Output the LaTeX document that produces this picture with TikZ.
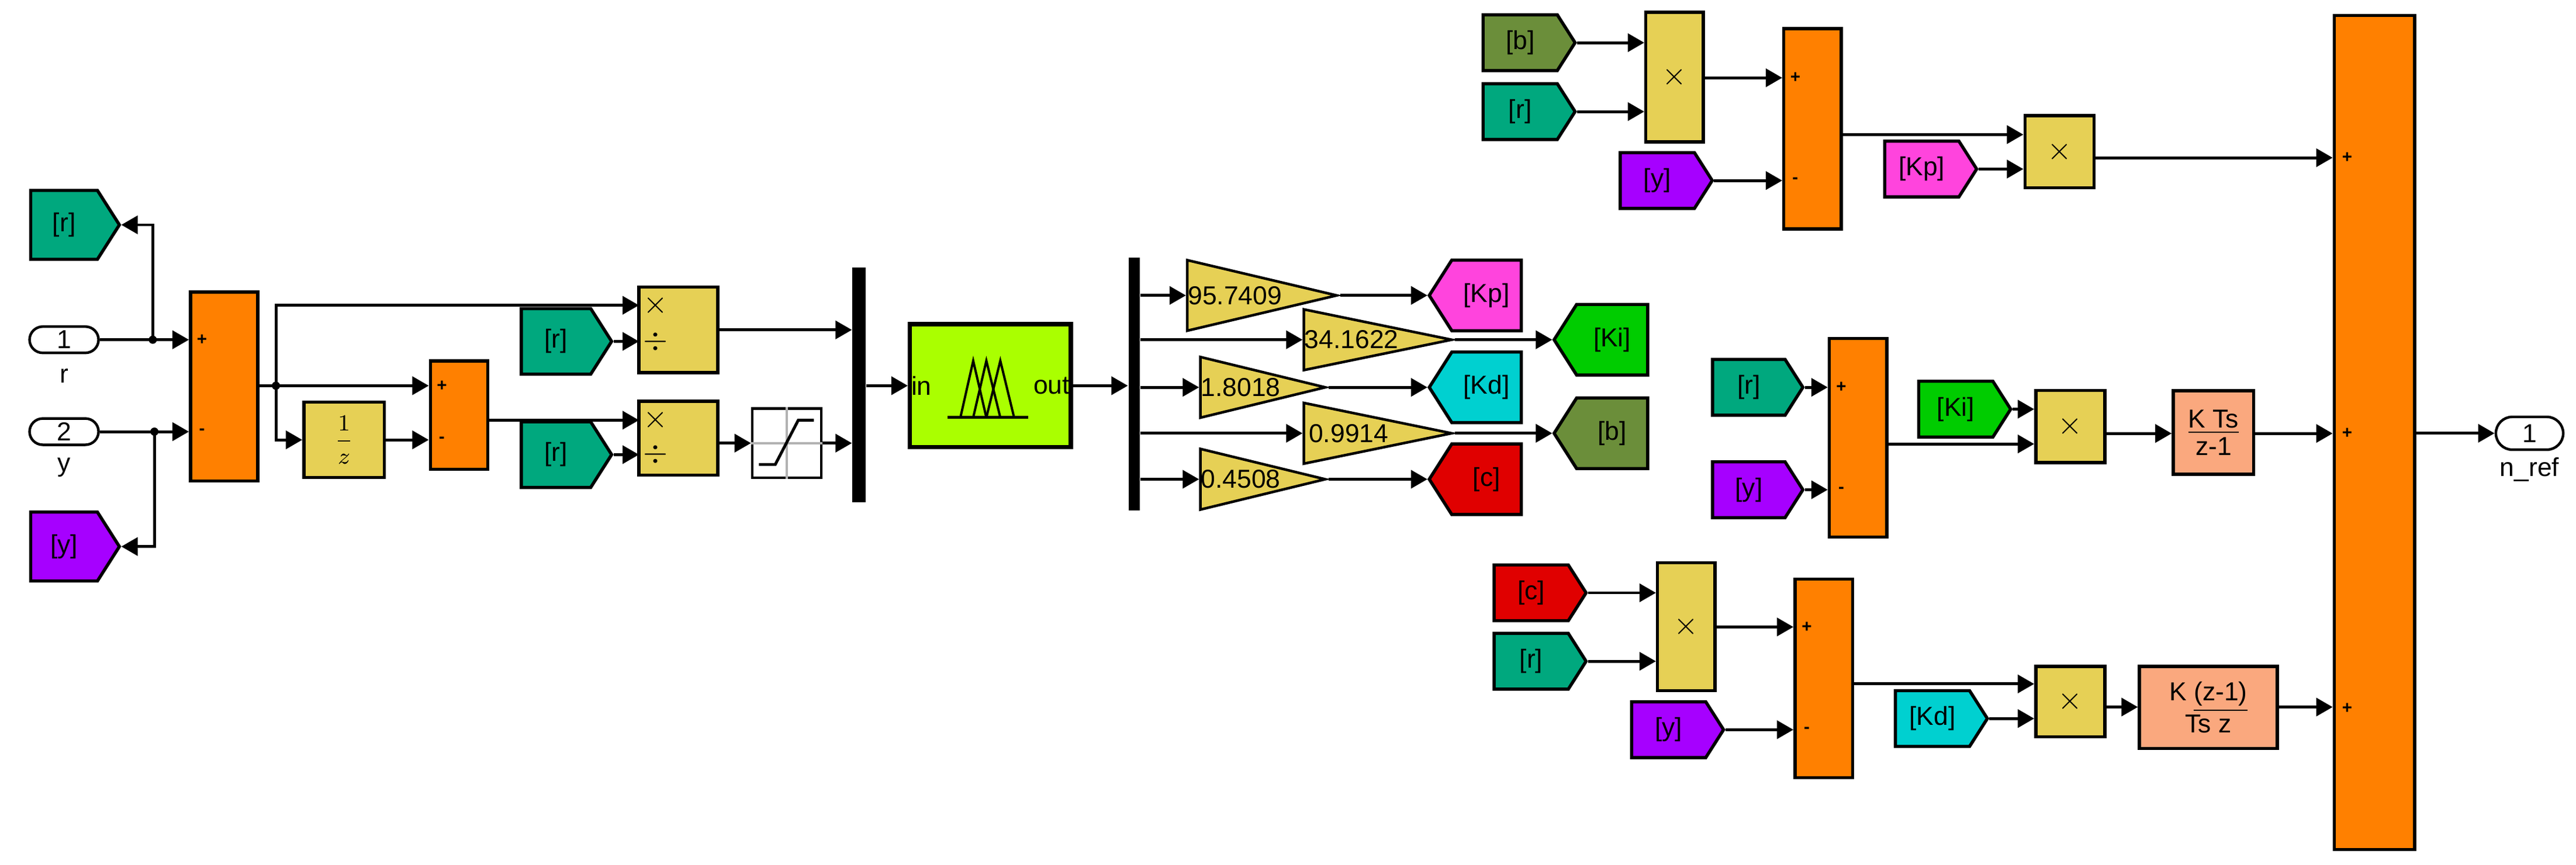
\documentclass[tikz,border=0pt]{standalone}
\usepackage{fontspec}
\setmainfont{Liberation Sans}
\usepackage{tikz}
\usetikzlibrary{shapes.geometric, shapes.symbols, shapes.misc, arrows.meta, positioning, calc}

\definecolor{sumorange}{HTML}{FF8000}
\definecolor{prodyellow}{HTML}{E6D055}
\definecolor{tagr}{HTML}{00A87E}
\definecolor{tagy}{HTML}{A600FF}
\definecolor{tagkp}{HTML}{FF44DD}
\definecolor{tagki}{HTML}{00CC00}
\definecolor{tagkd}{HTML}{00D0D0}
\definecolor{tagb}{HTML}{6B8E3A}
\definecolor{tagc}{HTML}{E00000}
\definecolor{fuzzygreen}{HTML}{AAFF00}
\definecolor{tfpeach}{HTML}{FAA87E}

\begin{document}
\begin{tikzpicture}[
        x=0.02cm, y=-0.02cm,
        font=\fontsize{9}{10}\selectfont,
        sz/.style 2 args={minimum width=#1*0.02cm, minimum height=#2*0.02cm},
        block/.style={rectangle, draw, line width=1.1pt, inner sep=0pt},
        sum/.style={block, fill=sumorange},
        prod/.style={block, fill=prodyellow, font=\fontsize{11}{11}\selectfont},
        tf/.style={block, fill=tfpeach, align=center, font=\fontsize{9}{9.5}\selectfont},
        tagE/.style={signal, signal to=east, signal pointer angle=115, draw, line width=1.1pt, inner sep=0pt},
        tagW/.style={signal, signal to=west, signal pointer angle=115, draw, line width=1.1pt, inner sep=0pt},
        gain/.style={isosceles triangle, isosceles triangle stretches, shape border rotate=0, draw, line width=0.9pt, fill=prodyellow, inner sep=0pt, anchor=west},
        port/.style={rounded rectangle, draw, line width=0.9pt, inner sep=0pt},
        muxbar/.style={rectangle, fill=black, inner sep=0pt},
        sign/.style={font=\fontsize{6}{6}\selectfont\bfseries, inner sep=0pt},
        arrow/.style={-{Triangle[length=2mm,width=2.2mm]}, line width=1pt},
        wire/.style={line width=1pt}
    ]
        \useasboundingbox (0,0) rectangle (1568.3,527);

        % Inputs and error
        \node[port, sz={42}{16}] (in1) at (39,207) {1};
        \node[port, sz={42}{16}] (in2) at (39,263) {2};
        \node at (39,229) {r};
        \node at (39,285) {y};
        \node[tagE, fill=tagr, sz={54}{42}] (rgo) at (39,137) {[r]};
        \node[tagE, fill=tagy, sz={54}{42}] (ygo) at (39,333) {[y]};
        \node[sum, sz={41}{115}] (sum1) at (136.5,235.5) {};
        \node[sign] at (123,207) {+};
        \node[sign] at (123,263) {-};
        \coordinate (j1) at (93,207);
        \coordinate (j3) at (94,263);
        \draw[arrow] (in1.east) -- (sum1.west |- in1);
        \draw[arrow] (in2.east) -- (sum1.west |- in2);
        \draw[arrow] (j1) |- (rgo.east);
        \draw[arrow] (j3) |- (ygo.east);
        \fill (j1) circle (2.5);
        \fill (j3) circle (2.5);

        % Error and its difference
        \coordinate (j2) at (168,235);
        \node[prod, sz={48}{52}] (prod1) at (413,201) {};
        \node[prod, sz={48}{45}] (prod2) at (413,267) {};
        \coordinate (p1a) at (389,186);
        \coordinate (p1b) at (389,208);
        \coordinate (p2a) at (389,256);
        \coordinate (p2b) at (389,277);
        \node[font=\fontsize{11}{11}\selectfont] at (399,186) {$\times$};
        \node[font=\fontsize{11}{11}\selectfont] at (399,208) {$\div$};
        \node[font=\fontsize{11}{11}\selectfont] at (399,256) {$\times$};
        \node[font=\fontsize{11}{11}\selectfont] at (399,277) {$\div$};
        \node[tagE, fill=tagr, sz={55}{40}] (r1) at (338.5,208) {[r]};
        \node[tagE, fill=tagr, sz={55}{40}] (r2) at (338.5,277) {[r]};
        \node[block, fill=prodyellow, sz={49}{46}, font=\fontsize{8}{8}\selectfont\rmfamily] (uz) at (209.5,268) {$\displaystyle\frac{1}{z}$};
        \node[sum, sz={35}{66}] (sum2) at (279.5,253) {};
        \node[sign] at (269,235) {+};
        \node[sign] at (269,268) {-};
        \draw[wire] (sum1.east |- j2) -- (j2);
        \draw[arrow] (j2) |- (p1a);
        \draw[arrow] (j2) -- (sum2.west |- j2);
        \draw[arrow] (j2) |- (uz.west);
        \draw[arrow] (uz.east) -- (sum2.west |- uz);
        \draw[arrow] (sum2.east |- p2a) -- (p2a);
        \draw[arrow] (r1.east) -- (p1b);
        \draw[arrow] (r2.east) -- (p2b);
        \fill (j2) circle (2.5);

        % Saturation
        \node[block, fill=white, line width=0.9pt, sz={42}{42}] (sat) at (479,270) {};
        \draw[gray!60, line width=0.8pt] (sat.north) -- (sat.south) (sat.west) -- (sat.east);
        \draw[line width=1pt] (462,283) -- (472,283) -- (486,256) -- (495.5,256);
        \draw[arrow] (prod2.east |- sat) -- (sat.west);

        % Mux and fuzzy controller
        \node[muxbar, sz={8}{143}] (mux1) at (523,234.5) {};
        \node[block, fill=fuzzygreen, line width=1.5pt, sz={98}{75}] (fuz) at (603,235) {};
        \node[anchor=west, inner sep=1pt] at (fuz.west) {in};
        \node[anchor=east, inner sep=1pt] at (fuz.east) {out};
        \foreach \a/\b/\c in {584.7/592.5/600.5, 592.5/600.5/609, 600.5/609/617.4}
            \draw[line width=0.8pt] (\a,254.4) -- (\b,219.8) -- (\c,254.4);
        \draw[line width=1pt] (577,254.4) -- (626,254.4);
        \draw[arrow] (prod1.east) -- (mux1.west |- prod1);
        \draw[arrow] (sat.east) -- (mux1.west |- sat);
        \draw[arrow] (mux1.east |- fuz) -- (fuz.west);
        \node[muxbar, sz={7}{154}] (mux2) at (690.5,234) {};
        \draw[arrow] (fuz.east) -- (mux2.west |- fuz);

        % Gains
        \node[gain, sz={43}{91}] (g1) at (722,180) {};
        \node[gain, sz={37}{90}] (g2) at (793,207) {};
        \node[gain, sz={37}{76}] (g3) at (730,236) {};
        \node[gain, sz={37}{90}] (g4) at (793,264) {};
        \node[gain, sz={37}{76}] (g5) at (730,292) {};
        \node[anchor=west, inner sep=0.5pt] at (g1.west) {95.7409};
        \node[anchor=west, inner sep=0.5pt] at (g2.west) {34.1622};
        \node[anchor=west, inner sep=0.5pt] at (g3.west) {1.8018};
        \node[anchor=west, inner sep=2pt] at (g4.west) {0.9914};
        \node[anchor=west, inner sep=0.5pt] at (g5.west) {0.4508};
        \node[tagW, fill=tagkp, sz={56}{43}] (kpgo) at (905,180) {[Kp]};
        \node[tagW, fill=tagki, sz={57}{43}] (kigo) at (981.5,207) {[Ki]};
        \node[tagW, fill=tagkd, sz={56}{43}] (kdgo) at (905,236) {[Kd]};
        \node[tagW, fill=tagb, sz={57}{43}] (bgo) at (981.5,264) {[b]};
        \node[tagW, fill=tagc, sz={56}{43}] (cgo) at (905,292) {[c]};
        \foreach \g/\t in {g1/kpgo, g2/kigo, g3/kdgo, g4/bgo, g5/cgo} {
            \draw[arrow] (mux2.east |- \g.west) -- (\g.west);
            \draw[arrow] (\g.east) -- (\t.west);
        }

        % Proportional branch
        \node[tagE, fill=tagb, sz={56}{34}] (bfr) at (925.5,26) {[b]};
        \node[tagE, fill=tagr, sz={56}{34}] (rfr1) at (925.5,68) {[r]};
        \node[tagE, fill=tagy, sz={56}{34}] (yfr1) at (1009,110) {[y]};
        \node[prod, sz={35}{79}] (prodA) at (1019.5,47) {$\times$};
        \node[sum, sz={35}{122}] (sumA) at (1103.5,78.5) {};
        \node[sign] at (1093,47.4) {+};
        \node[sign] at (1093,110) {-};
        \node[tagE, fill=tagkp, sz={56}{34}] (kpfr) at (1170,103) {[Kp]};
        \node[prod, sz={42}{44}] (prodB) at (1253.8,92.4) {$\times$};
        \draw[arrow] (bfr.east) -- (prodA.west |- bfr);
        \draw[arrow] (rfr1.east) -- (prodA.west |- rfr1);
        \draw[arrow] (prodA.east |- 0,47.4) -- (sumA.west |- 0,47.4);
        \draw[arrow] (yfr1.east) -- (sumA.west |- yfr1);
        \draw[arrow] (sumA.east |- 0,82) -- (prodB.west |- 0,82);
        \draw[arrow] (kpfr.east) -- (prodB.west |- kpfr);

        % Integral branch
        \node[tagE, fill=tagr, sz={55}{34}] (rfr2) at (1064.7,236) {[r]};
        \node[tagE, fill=tagy, sz={55}{34}] (yfr2) at (1064.7,298.4) {[y]};
        \node[sum, sz={35}{121}] (sumB) at (1131.2,266.8) {};
        \node[sign] at (1121,236) {+};
        \node[sign] at (1121,298.4) {-};
        \node[tagE, fill=tagki, sz={56}{34}] (kifr) at (1190.7,249.3) {[Ki]};
        \node[prod, sz={42}{44}] (prodC) at (1260.4,259.8) {$\times$};
        \node[tf, sz={49}{51}] (tfi) at (1347.6,263.5) {\underline{K Ts}\\z-1};
        \draw[arrow] (rfr2.east) -- (sumB.west |- rfr2);
        \draw[arrow] (yfr2.east) -- (sumB.west |- yfr2);
        \draw[arrow] (kifr.east) -- (prodC.west |- kifr);
        \draw[arrow] (sumB.east |- 0,270.5) -- (prodC.west |- 0,270.5);
        \draw[arrow] (prodC.east |- 0,264.1) -- (tfi.west |- 0,264.1);

        % Derivative branch
        \node[tagE, fill=tagc, sz={56}{34}] (cfr) at (932.2,361.2) {[c]};
        \node[tagE, fill=tagr, sz={56}{34}] (rfr3) at (932.2,402.9) {[r]};
        \node[tagE, fill=tagy, sz={56}{34}] (yfr3) at (1015.9,444.6) {[y]};
        \node[prod, sz={35}{78}] (prodD) at (1026.6,381.9) {$\times$};
        \node[sum, sz={35}{121}] (sumC) at (1110.3,413.4) {};
        \node[sign] at (1100,382) {+};
        \node[sign] at (1100,444.6) {-};
        \node[tagE, fill=tagkd, sz={56}{34}] (kdfr) at (1176.5,437.8) {[Kd]};
        \node[prod, sz={42}{43}] (prodE) at (1260.4,427.5) {$\times$};
        \node[tf, sz={84}{50}] (tfd) at (1344.5,431) {K \underline{(z-1)}\\Ts z};
        \draw[arrow] (cfr.east) -- (prodD.west |- cfr);
        \draw[arrow] (rfr3.east) -- (prodD.west |- rfr3);
        \draw[arrow] (prodD.east |- 0,382) -- (sumC.west |- 0,382);
        \draw[arrow] (yfr3.east) -- (sumC.west |- yfr3);
        \draw[arrow] (sumC.east |- 0,416.7) -- (prodE.west |- 0,416.7);
        \draw[arrow] (kdfr.east) -- (prodE.west |- kdfr);
        \draw[arrow] (prodE.east |- 0,430.8) -- (tfd.west |- 0,430.8);

        % Output sum
        \node[sum, sz={49}{508}] (sumout) at (1445.6,263.5) {};
        \node[sign] at (1429,96.1) {+};
        \node[sign] at (1429,264.1) {+};
        \node[sign] at (1429,431.5) {+};
        \node[port, sz={41}{20}] (out1) at (1540,264) {1};
        \node at (1540,286) {n\_ref};
        \draw[arrow] (prodB.east |- 0,96.1) -- (sumout.west |- 0,96.1);
        \draw[arrow] (tfi.east |- 0,264.1) -- (sumout.west |- 0,264.1);
        \draw[arrow] (tfd.east |- 0,430.8) -- (sumout.west |- 0,430.8);
        \draw[arrow] (sumout.east |- out1) -- (out1.west);
    \end{tikzpicture}
\end{document}
